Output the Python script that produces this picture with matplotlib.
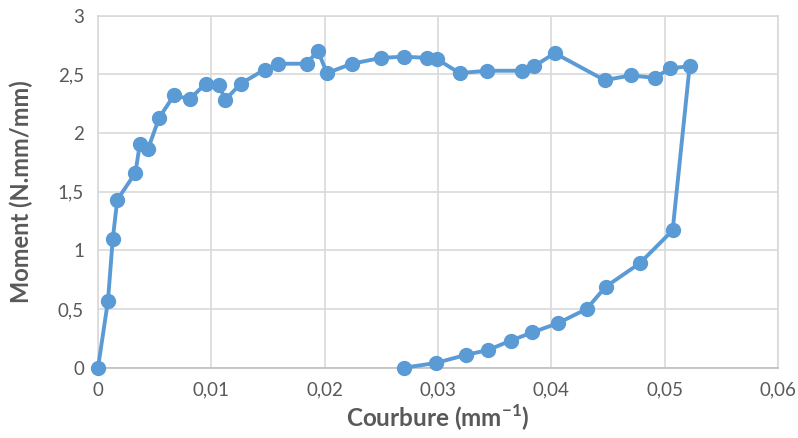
import matplotlib.pyplot as plt
from matplotlib.ticker import FuncFormatter

# curvature (mm^-1) and moment (N.mm/mm)
courbure = [0.0, 0.00088, 0.0013, 0.0017, 0.0033, 0.0037, 0.0044, 0.0054,
            0.0067, 0.0081, 0.0095, 0.0107, 0.0112, 0.0126, 0.0147, 0.0159,
            0.0184, 0.0194, 0.0202, 0.0224, 0.0250, 0.0270, 0.0290, 0.0299,
            0.0319, 0.0343, 0.0374, 0.0385, 0.0403, 0.0447, 0.0470, 0.0491,
            0.0505, 0.0522, 0.0507, 0.0478, 0.0448, 0.0431, 0.0406, 0.0383,
            0.0364, 0.0344, 0.0325, 0.0298, 0.0270]
moment = [0.0, 0.57, 1.095, 1.43, 1.66, 1.91, 1.86, 2.13,
          2.32, 2.29, 2.42, 2.41, 2.28, 2.42, 2.54, 2.59,
          2.59, 2.70, 2.51, 2.59, 2.64, 2.65, 2.64, 2.63,
          2.51, 2.53, 2.53, 2.57, 2.68, 2.45, 2.49, 2.47,
          2.55, 2.57, 1.17, 0.89, 0.69, 0.50, 0.38, 0.30,
          0.23, 0.15, 0.11, 0.04, 0.0]

xticks = [0, 0.01, 0.02, 0.03, 0.04, 0.05, 0.06]
yticks = [0, 0.5, 1, 1.5, 2, 2.5, 3]

plt.rcParams['font.family'] = ['Lato', 'DejaVu Sans']
text_col = '#595959'
blue = '#5B9BD5'

fig = plt.figure(figsize=(7.98, 4.38), dpi=100)
ax = fig.add_axes([0.1228, 0.1605, 0.8522, 0.8039])

ax.plot(courbure, moment, color=blue, lw=2.8, marker='o', ms=10,
        markeredgecolor=blue, solid_joinstyle='round', clip_on=False, zorder=3)

ax.set_xlim(0, 0.06)
ax.set_ylim(0, 3)
ax.set_xticks(xticks)
ax.set_yticks(yticks)
comma = FuncFormatter(lambda v, p: ('%g' % v).replace('.', ','))
ax.xaxis.set_major_formatter(comma)
ax.yaxis.set_major_formatter(comma)
ax.tick_params(length=0, labelsize=13.5, colors=text_col, pad=10)

ax.grid(True, color='#D9D9D9', lw=1.2)
ax.set_axisbelow(True)
for s in ax.spines.values():
    s.set_color('#D9D9D9')
    s.set_linewidth(1.2)
ax.spines['bottom'].set_color('#BFBFBF')

ax.set_xlabel('Courbure (mm$^{\\mathregular{-1}}$)', fontsize=17.5,
              fontweight='bold', color=text_col, labelpad=3)
ax.set_ylabel('Moment (N.mm/mm)', fontsize=17, fontweight='bold',
              color=text_col, labelpad=0)
ax.yaxis.set_label_coords(-0.095, 0.5)

fig.savefig('out.png', dpi=100)
